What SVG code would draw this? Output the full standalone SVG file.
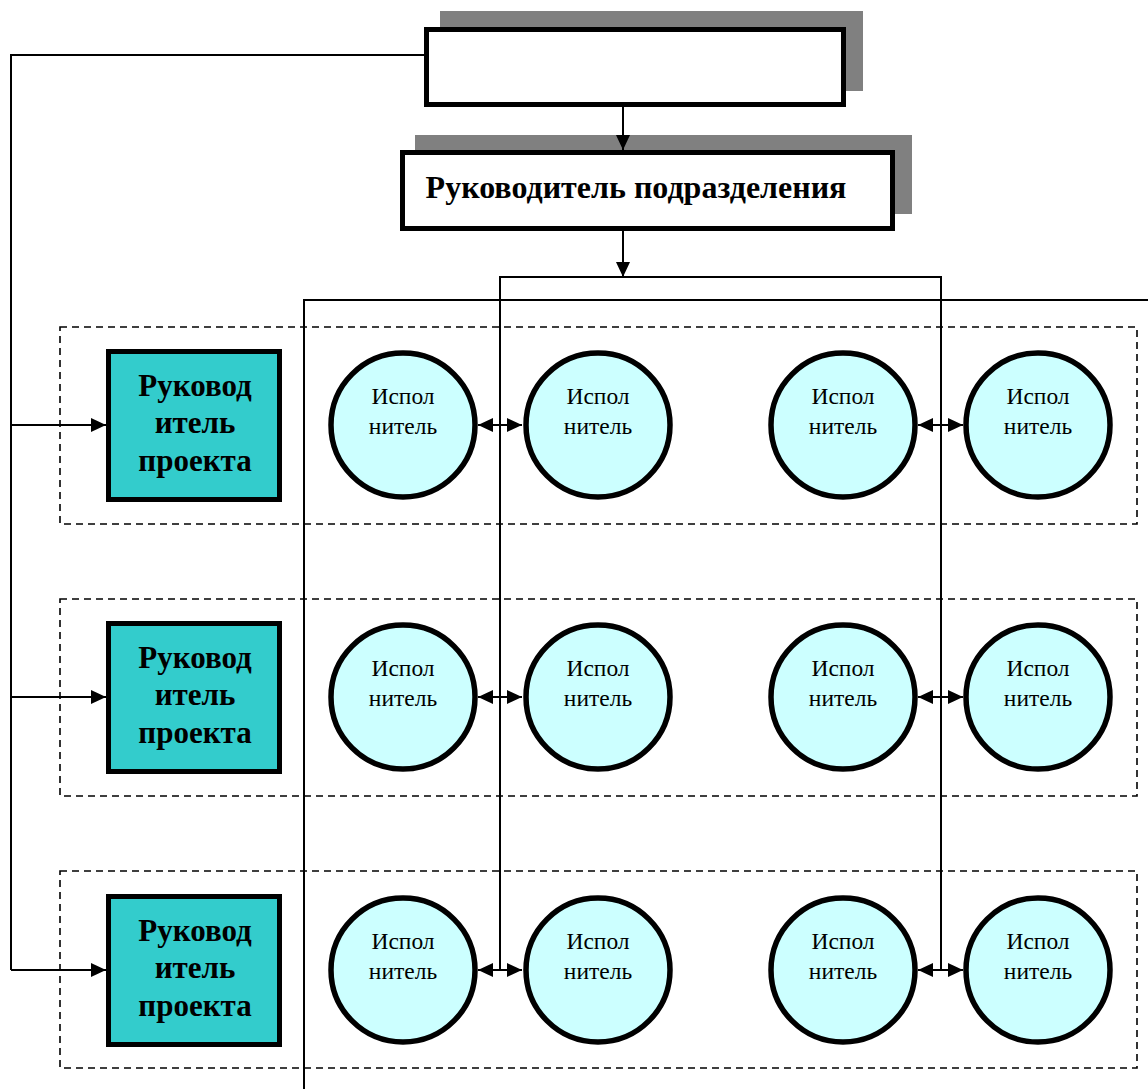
<svg xmlns="http://www.w3.org/2000/svg" width="1148" height="1089" viewBox="0 0 1148 1089">
<style>
.ln{fill:none;stroke:#000;stroke-width:2}
.dash{fill:none;stroke:#000;stroke-width:1.6;stroke-dasharray:7 5}
.shadow{fill:#808080}
.box{fill:#fff;stroke:#000;stroke-width:5}
.pm{fill:#33CCCC;stroke:#000;stroke-width:5}
.ex{fill:#CCFFFF;stroke:#000;stroke-width:5.5}
.tb{font-family:"Liberation Serif","Times New Roman",serif;font-weight:bold;fill:#000;text-anchor:middle}
.tr{font-family:"Liberation Serif","Times New Roman",serif;font-size:23.5px;fill:#000;text-anchor:middle}
</style>
<defs>
<marker id="ah" viewBox="0 0 15 14" refX="15" refY="7" markerWidth="15" markerHeight="14" markerUnits="userSpaceOnUse" orient="auto-start-reverse">
<path d="M0,0L15,7L0,14z" fill="#000"/>
</marker>
</defs>
<g id="groups">
<rect class="dash" x="60" y="327" width="1077" height="197"/>
<rect class="dash" x="60" y="599" width="1077" height="197"/>
<rect class="dash" x="60" y="871" width="1077" height="197"/>
</g>
<g id="top">
<rect class="shadow" x="440" y="11" width="423" height="80"/>
<rect class="box" x="426.5" y="29.5" width="417" height="75"/>
</g>
<g id="head">
<rect class="shadow" x="415" y="135" width="497" height="79"/>
<rect class="box" x="402.5" y="152.5" width="490" height="76"/>
<text class="tb" x="636" y="198" font-size="32">Руководитель подразделения</text>
</g>
<g id="pm1">
<rect class="pm" x="108.5" y="351.5" width="171" height="148"/>
<text class="tb" font-size="31"><tspan x="195" y="396">Руковод</tspan><tspan x="195" y="433">итель</tspan><tspan x="195" y="471">проекта</tspan></text>
</g>
<g id="pm2">
<rect class="pm" x="108.5" y="623.5" width="171" height="148"/>
<text class="tb" font-size="31"><tspan x="195" y="668">Руковод</tspan><tspan x="195" y="705">итель</tspan><tspan x="195" y="743">проекта</tspan></text>
</g>
<g id="pm3">
<rect class="pm" x="108.5" y="896.5" width="171" height="148"/>
<text class="tb" font-size="31"><tspan x="195" y="941">Руковод</tspan><tspan x="195" y="978">итель</tspan><tspan x="195" y="1016">проекта</tspan></text>
</g>
<g id="e11"><circle class="ex" cx="403" cy="425" r="72"/><text class="tr"><tspan x="403" y="404">Испол</tspan><tspan x="403" y="434">нитель</tspan></text></g>
<g id="e12"><circle class="ex" cx="598" cy="425" r="72"/><text class="tr"><tspan x="598" y="404">Испол</tspan><tspan x="598" y="434">нитель</tspan></text></g>
<g id="e13"><circle class="ex" cx="843" cy="425" r="72"/><text class="tr"><tspan x="843" y="404">Испол</tspan><tspan x="843" y="434">нитель</tspan></text></g>
<g id="e14"><circle class="ex" cx="1038" cy="425" r="72"/><text class="tr"><tspan x="1038" y="404">Испол</tspan><tspan x="1038" y="434">нитель</tspan></text></g>
<g id="e21"><circle class="ex" cx="403" cy="697" r="72"/><text class="tr"><tspan x="403" y="676">Испол</tspan><tspan x="403" y="706">нитель</tspan></text></g>
<g id="e22"><circle class="ex" cx="598" cy="697" r="72"/><text class="tr"><tspan x="598" y="676">Испол</tspan><tspan x="598" y="706">нитель</tspan></text></g>
<g id="e23"><circle class="ex" cx="843" cy="697" r="72"/><text class="tr"><tspan x="843" y="676">Испол</tspan><tspan x="843" y="706">нитель</tspan></text></g>
<g id="e24"><circle class="ex" cx="1038" cy="697" r="72"/><text class="tr"><tspan x="1038" y="676">Испол</tspan><tspan x="1038" y="706">нитель</tspan></text></g>
<g id="e31"><circle class="ex" cx="403" cy="970" r="72"/><text class="tr"><tspan x="403" y="949">Испол</tspan><tspan x="403" y="979">нитель</tspan></text></g>
<g id="e32"><circle class="ex" cx="598" cy="970" r="72"/><text class="tr"><tspan x="598" y="949">Испол</tspan><tspan x="598" y="979">нитель</tspan></text></g>
<g id="e33"><circle class="ex" cx="843" cy="970" r="72"/><text class="tr"><tspan x="843" y="949">Испол</tspan><tspan x="843" y="979">нитель</tspan></text></g>
<g id="e34"><circle class="ex" cx="1038" cy="970" r="72"/><text class="tr"><tspan x="1038" y="949">Испол</tspan><tspan x="1038" y="979">нитель</tspan></text></g>
<g id="connectors">
<path class="ln" d="M424,55H11V970"/>
<path class="ln" d="M11,425H106" marker-end="url(#ah)"/>
<path class="ln" d="M11,697H106" marker-end="url(#ah)"/>
<path class="ln" d="M11,970H106" marker-end="url(#ah)"/>
<path class="ln" d="M623,107V150" marker-end="url(#ah)"/>
<path class="ln" d="M623,231V277" marker-end="url(#ah)"/>
<path class="ln" d="M500,970V277H941V970"/>
<path class="ln" d="M304,1089V300H1148"/>
<path class="ln" d="M478,425H522" marker-start="url(#ah)" marker-end="url(#ah)"/>
<path class="ln" d="M918,425H963" marker-start="url(#ah)" marker-end="url(#ah)"/>
<path class="ln" d="M478,697H522" marker-start="url(#ah)" marker-end="url(#ah)"/>
<path class="ln" d="M918,697H963" marker-start="url(#ah)" marker-end="url(#ah)"/>
<path class="ln" d="M478,970H522" marker-start="url(#ah)" marker-end="url(#ah)"/>
<path class="ln" d="M918,970H963" marker-start="url(#ah)" marker-end="url(#ah)"/>
</g>
</svg>
